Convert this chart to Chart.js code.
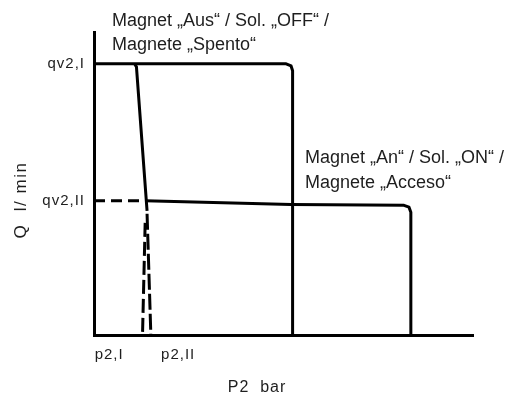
<!DOCTYPE html>
<html>
<head>
<meta charset="utf-8">
<title>Q / P2</title>
<script src="https://cdn.jsdelivr.net/npm/chart.js@4/dist/chart.umd.min.js"></script>
<style>
  html, body { margin: 0; padding: 0; background: #fff; }
  #wrap { width: 510px; height: 393px; position: relative; }
</style>
</head>
<body>
<div id="wrap"><canvas id="chart"></canvas></div>
<script>
// axis ticks (value units are arbitrary)
const flowTicks = [8.95, 4.43];
const flowLabels = ["qv2,I", "qv2,II"];
const pressureTicks = [0.40, 2.22];
const pressureLabels = ["p2,I", "p2,II"];

// magnet off: high flow, breaks down at high pressure
const offX = [0, 5.07, 5.20, 5.24, 5.24];
const offY = [8.95, 8.95, 8.88, 8.72, 0];

// steep drop from qv2,I
const dropX = [1.07, 1.12, 1.40];
const dropY = [8.95, 8.85, 4.10];

// magnet on: lower flow, longer plateau
const onX = [1.35, 5.20, 8.18, 8.31, 8.36, 8.36];
const onY = [4.43, 4.31, 4.28, 4.22, 4.05, 0];

// dashed guide lines
const guideX = [0, 1.35];
const guideY = [4.43, 4.43];
const dashLeftX = [1.35, 1.28];
const dashLeftY = [3.70, 0];
const dashRightX = [1.40, 1.50];
const dashRightY = [4.00, 0];

function pts(xs, ys) {
    return xs.map((x, i) => ({ x: x, y: ys[i] }));
}

function line(label, xs, ys, dash) {
    return {
        label: label,
        data: pts(xs, ys),
        showLine: true,
        borderColor: "#000",
        borderWidth: 3,
        borderDash: dash || [],
        pointRadius: 0,
        fill: false,
        tension: 0,
        borderJoinStyle: "round",
        borderCapStyle: "butt"
    };
}

const textPlugin = {
    id: "texts",
    beforeDraw(chart) {
        chart.ctx.letterSpacing = "1px";
    },
    afterDraw(chart) {
        const ctx = chart.ctx;
        ctx.save();
        ctx.fillStyle = "#1e1e1e";
        ctx.textBaseline = "middle";

        // annotations
        ctx.letterSpacing = "0px";
        ctx.font = "18px 'Liberation Sans', Arial, sans-serif";
        ctx.textAlign = "left";
        ctx.fillText("Magnet \u201EAus\u201C / Sol. \u201EOFF\u201C /", 112, 21);
        ctx.fillText("Magnete \u201ESpento\u201C", 112, 45);
        ctx.fillText("Magnet \u201EAn\u201C / Sol. \u201EON\u201C /", 305, 158);
        ctx.fillText("Magnete \u201EAcceso\u201C", 305, 183);

        // x title
        ctx.letterSpacing = "1px";
        ctx.font = "16px 'Liberation Sans', Arial, sans-serif";
        ctx.textAlign = "center";
        ctx.fillText("P2  bar", 257, 388);

        // y title
        ctx.translate(21, 200);
        ctx.rotate(-Math.PI / 2);
        ctx.letterSpacing = "1.5px";
        ctx.font = "17px 'Liberation Sans', Arial, sans-serif";
        ctx.fillText("Q  l/ min", 0, 0);
        ctx.restore();
        ctx.letterSpacing = "0px";
    }
};

const tickFont = { family: "'Liberation Sans', Arial, sans-serif", size: 15 };

new Chart(document.getElementById("chart"), {
    type: "scatter",
    data: {
        datasets: [
            line("Magnet Aus", offX, offY),
            line("Abfall", dropX, dropY),
            line("Magnet An", onX, onY),
            line("qv2,II", guideX, guideY, [11, 6]),
            line("p2,I", dashLeftX, dashLeftY, [14, 5]),
            line("p2,II", dashRightX, dashRightY, [16, 4])
        ]
    },
    options: {
        responsive: true,
        maintainAspectRatio: false,
        animation: false,
        layout: { padding: { left: 0, top: 32, right: 37, bottom: 0 } },
        plugins: {
            legend: { display: false },
            tooltip: { enabled: false }
        },
        scales: {
            x: {
                type: "linear",
                min: 0,
                max: 10,
                grid: { display: false, drawTicks: false },
                border: { display: true, color: "#000", width: 3 },
                afterBuildTicks: s => { s.ticks = pressureTicks.map(v => ({ value: v })); },
                afterFit: s => { s.height = 58; },
                ticks: {
                    autoSkip: false,
                    maxRotation: 0,
                    padding: 11,
                    color: "#1e1e1e",
                    font: tickFont,
                    callback: (v, i) => pressureLabels[i]
                }
            },
            y: {
                type: "linear",
                min: 0,
                max: 10,
                grid: { display: false, drawTicks: false },
                border: { display: true, color: "#000", width: 3 },
                afterBuildTicks: s => { s.ticks = flowTicks.map(v => ({ value: v })); },
                afterFit: s => { s.width = 94; },
                ticks: {
                    autoSkip: false,
                    padding: 9,
                    color: "#1e1e1e",
                    font: tickFont,
                    callback: (v, i) => flowLabels[i]
                }
            }
        }
    },
    plugins: [textPlugin]
});
</script>
</body>
</html>
